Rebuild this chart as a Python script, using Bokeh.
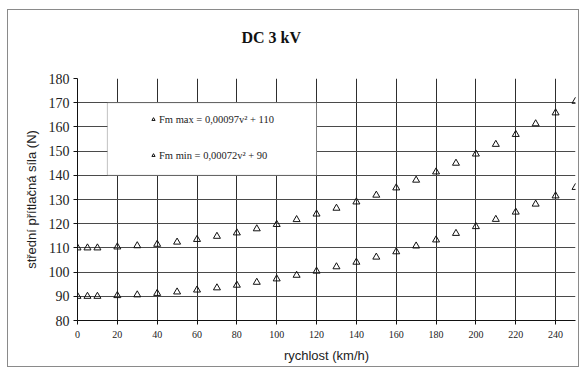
from bokeh.plotting import figure
from bokeh.models import Range1d, FixedTicker, Legend, LegendItem, BoxAnnotation, Title
from bokeh.embed import file_html
from bokeh.resources import INLINE

# data
speed = [0, 5, 10, 20, 30, 40, 50, 60, 70, 80, 90, 100, 110, 120, 130, 140,
         150, 160, 170, 180, 190, 200, 210, 220, 230, 240, 250]
fm_max = [110, 110, 110, 110.4, 110.9, 111.5, 112.4, 113.5, 114.8, 116.2, 117.9,
          119.7, 121.7, 124.0, 126.4, 129.0, 131.8, 134.8, 138.0, 141.4, 145.0,
          148.8, 152.8, 156.9, 161.3, 165.8, 170.6]
fm_min = [90, 90, 90, 90.3, 90.6, 91.2, 91.8, 92.6, 93.5, 94.6, 95.8, 97.2,
          98.7, 100.4, 102.2, 104.1, 106.2, 108.4, 110.8, 113.3, 116.0, 118.8,
          121.8, 124.8, 128.1, 131.5, 135.0]
x_ticks = [0, 20, 40, 60, 80, 100, 120, 140, 160, 180, 200, 220, 240]
y_ticks = [80, 90, 100, 110, 120, 130, 140, 150, 160, 170, 180]
label_max = "Fm max = 0,00097v\u00b2 + 110"
label_min = "Fm min = 0,00072v\u00b2 + 90"
title_text = "DC 3 kV"
x_label = "rychlost (km/h)"
y_label = "st\u0159edn\u00ed p\u0159\u00edtla\u010dn\u00e1 s\u00edla (N)"

p = figure(width=572, height=358, output_backend="svg", toolbar_location=None,
           x_range=Range1d(0, 250), y_range=Range1d(80, 180),
           min_border_left=69, min_border_right=5, min_border_top=68,
           min_border_bottom=48)
p.styles = {"border": "1px solid #8a8a8a", "margin-left": "7px", "margin-top": "9px"}
p.outline_line_color = None

p.title.text = title_text
p.title.align = "left"
p.title.offset = 164
p.title.standoff = 26
p.title.text_font = "Liberation Serif"
p.title.text_font_size = "16px"
p.title.text_font_style = "bold"
p.title.text_color = "#111111"
# white spacer between the title and the frame
p.add_layout(Title(text=".", text_color="white", text_font_size="16px",
                   standoff=6), "above")

# axes
p.xaxis.ticker = FixedTicker(ticks=x_ticks)
p.yaxis.ticker = FixedTicker(ticks=y_ticks)
for ax in (p.xaxis[0], p.yaxis[0]):
    ax.axis_line_color = "#111111"
    ax.major_tick_line_color = "#111111"
    ax.major_tick_out = 4
    ax.major_tick_in = 0
    ax.minor_tick_line_color = None
    ax.major_label_text_font = "Liberation Serif"
    ax.major_label_text_color = "#222222"
    ax.axis_label_text_font = "Liberation Sans"
    ax.axis_label_text_font_size = "13px"
    ax.axis_label_text_font_style = "normal"
    ax.axis_label_text_color = "#222222"
p.xaxis.major_label_text_font_size = "10px"
p.yaxis.major_label_text_font_size = "14px"
p.xaxis.major_label_standoff = 6
p.yaxis.major_label_standoff = 4
p.xaxis.axis_label = x_label
p.yaxis.axis_label = y_label
p.xaxis.axis_label_standoff = 7
p.yaxis.axis_label_standoff = 7

p.xgrid.grid_line_color = "#2e2e2e"
p.ygrid.grid_line_color = "#4a4a4a"
p.xgrid.ticker = FixedTicker(ticks=x_ticks)
p.ygrid.ticker = FixedTicker(ticks=y_ticks)

# legend box
p.add_layout(BoxAnnotation(left=15, right=120, bottom=140, top=170,
                           fill_color="white", fill_alpha=1.0,
                           line_color="#333333", line_width=1, level="underlay"))

r_max = p.scatter(speed, fm_max, marker="triangle", size=7, fill_color=None,
                  line_color="#111111", line_width=1)
r_min = p.scatter(speed, fm_min, marker="triangle", size=7, fill_color=None,
                  line_color="#111111", line_width=1)

legend = Legend(items=[LegendItem(label=label_max, renderers=[r_max]),
                       LegendItem(label=label_min, renderers=[r_min])],
                location=(72, 158), padding=0, margin=0, spacing=22,
                glyph_width=8, glyph_height=14, label_height=14,
                label_standoff=2, label_text_font="Liberation Serif",
                label_text_font_size="10.5px", label_text_color="#222222",
                background_fill_alpha=0, border_line_alpha=0)
p.add_layout(legend)

open("out.html", "w").write(file_html(p, INLINE))
